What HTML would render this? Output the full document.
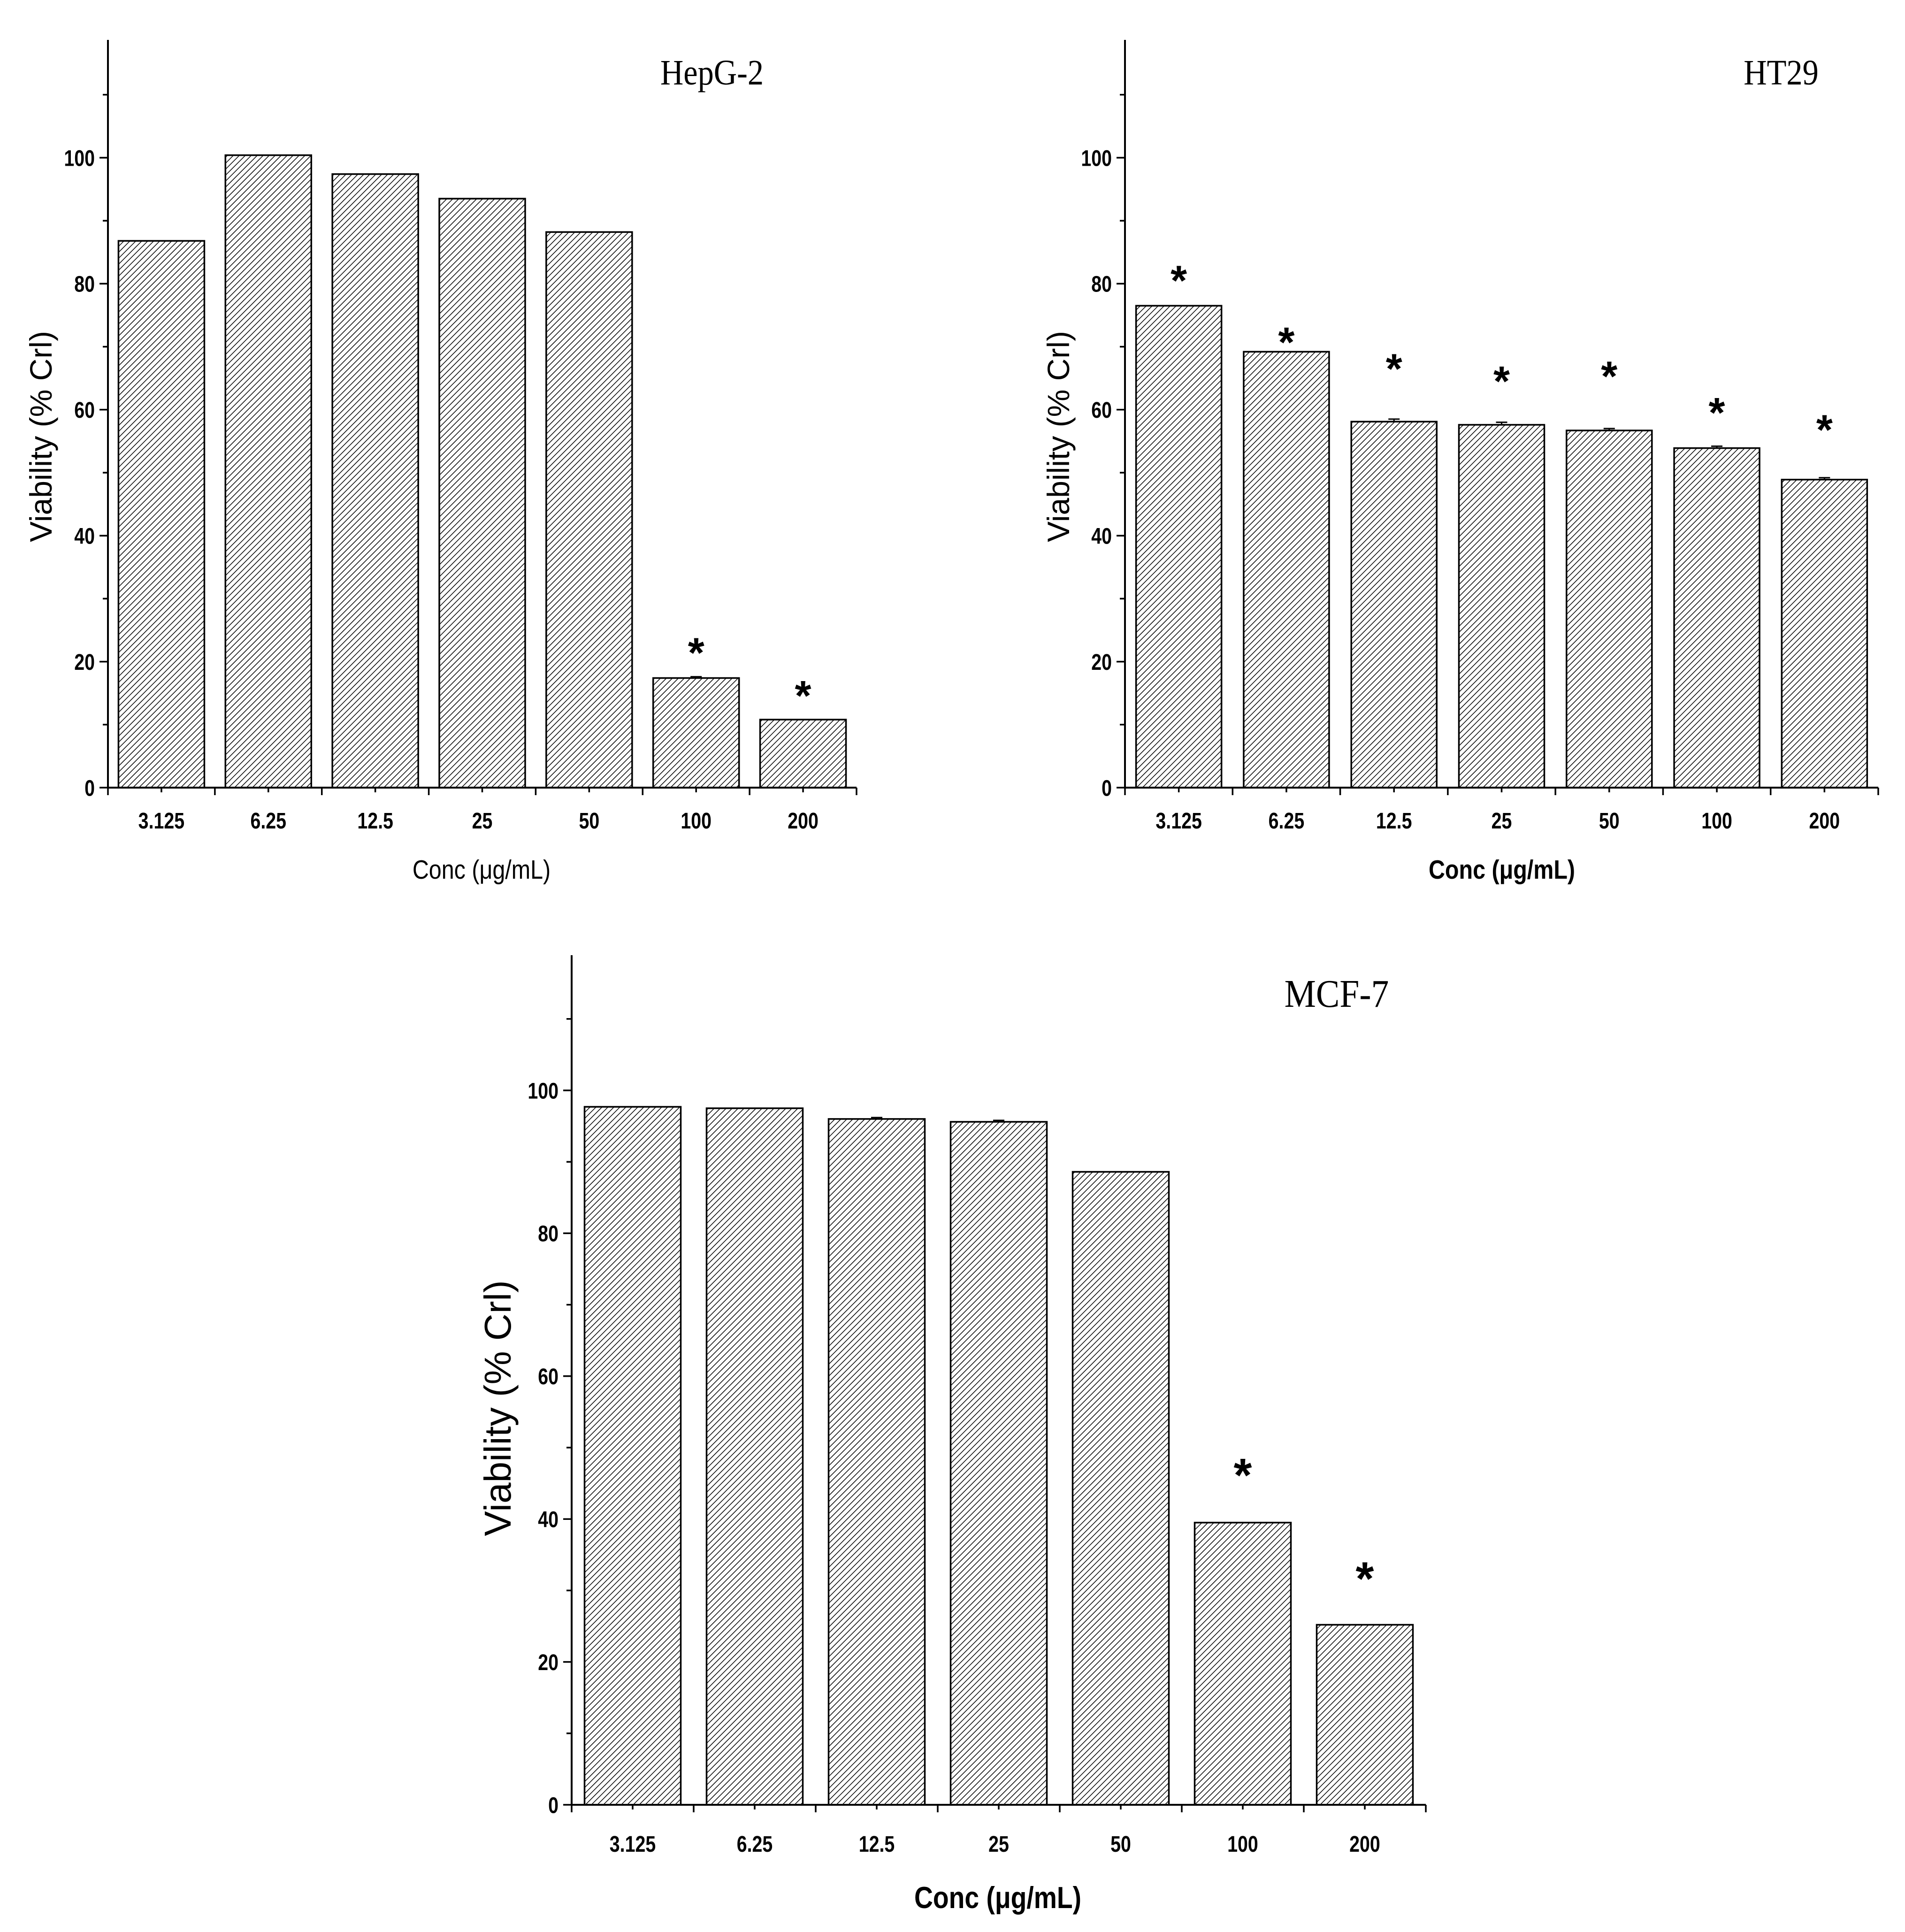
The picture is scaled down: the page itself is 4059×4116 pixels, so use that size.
<!DOCTYPE html>
<html><head><meta charset="utf-8"><style>
html,body{margin:0;padding:0;background:#fff;}
svg{display:block;}
</style></head><body>
<svg id="fig" width="4059" height="4116" viewBox="0 0 4059 4116" xmlns="http://www.w3.org/2000/svg">
<defs>
<pattern id="hatch" patternUnits="userSpaceOnUse" width="9" height="9" patternTransform="rotate(45)">
<rect width="9" height="9" fill="#fff"/>
<line x1="0" y1="0" x2="0" y2="9" stroke="#000" stroke-width="3"/>
</pattern>
</defs>
</svg>
<script>
const categories = ["3.125","6.25","12.5","25","50","100","200"];
const yTicks = [0,20,40,60,80,100];
const hepValues = [86.8,100.4,97.4,93.5,88.2,17.4,10.8];
const hepErr = [0,0,0,0,0,0.2,0];
const hepStars = [null,null,null,null,null,22.8,16];
const htValues = [76.5,69.2,58.1,57.6,56.7,53.9,48.9];
const htErr = [0,0,0.4,0.4,0.3,0.3,0.3];
const htStars = [81.9,72.1,67.9,65.9,66.7,60.9,58.2];
const mcfValues = [97.7,97.5,96,95.6,88.6,39.5,25.2];
const mcfErr = [0,0,0.2,0.2,0,0,0];
const mcfStars = [null,null,null,null,null,47.5,33];

const NS = "http://www.w3.org/2000/svg";
const svg = document.getElementById('fig');
function mk(tag, attrs, parent, text){
  const e = document.createElementNS(NS, tag);
  for (const k in attrs) e.setAttribute(k, attrs[k]);
  if (text !== undefined) e.textContent = text;
  (parent||svg).appendChild(e);
  return e;
}
function panel(cfg, values, errs, stars){
  const g = mk('g', {});
  
  
  const y = v => cfg.y0 - (v) * (cfg.y0 - cfg.y100) / 100;
  const band = (cfg.x1 - cfg.x0) / categories.length;
  const cx = i => cfg.x0 + band * (i + 0.5);
  values.forEach((v, i) => {
    const r = mk('rect', {x: cx(i) - cfg.bw/2, y: y(v), width: cfg.bw, height: cfg.y0 - y(v), fill: 'url(#hatch)', stroke: '#000', 'stroke-width': 3.5}, g);
    
    
    if (errs[i] > 0) {
      const e = mk('path', {d: `M${cx(i)-12},${y(v+errs[i])}H${cx(i)+12}M${cx(i)},${y(v+errs[i])}V${y(v)}`, stroke: '#000', 'stroke-width': 3, fill: 'none'}, g);
      
      
    }
    if (stars[i] !== null) {
      const s = mk('text', {x: cx(i), y: y(stars[i]) + cfg.starSize*0.55, 'font-family': 'Liberation Sans, sans-serif', 'font-weight': 'bold', 'font-size': cfg.starSize, 'text-anchor': 'middle'}, g, '*');
      
      
    }
  });
  const ax = mk('path', {d: `M${cfg.x0},${cfg.yTop}V${cfg.y0}H${cfg.x1}`, stroke: '#000', 'stroke-width': 4, fill: 'none'}, g);
  
  
  let d = '';
  for (let v = 0; v <= 110; v += 10) {
    const len = v % 20 === 0 ? 18 : 11;
    d += `M${cfg.x0-len},${y(v)}H${cfg.x0}`;
  }
  for (let i = 0; i <= categories.length; i++) d += `M${cfg.x0+band*i},${cfg.y0}v16`;
  for (let i = 0; i < categories.length; i++) d += `M${cx(i)},${cfg.y0}v10`;
  mk('path', {d: d, stroke: '#000', 'stroke-width': 3.5, fill: 'none'}, g);
  yTicks.forEach(v => {
    const t = mk('text', {x: cfg.x0 - 28, y: y(v) + cfg.tick*0.36, 'font-family': 'Liberation Sans, sans-serif', 'font-weight': 'bold', 'font-size': cfg.tick, 'text-anchor': 'end', transform: `translate(${(cfg.x0-28)*0.18},0) scale(0.82,1)`}, g, String(v));
    
    
  });
  categories.forEach((c, i) => {
    const t = mk('text', {x: cx(i)/0.82, y: cfg.xTickY, 'font-family': 'Liberation Sans, sans-serif', 'font-weight': 'bold', 'font-size': cfg.tick, 'text-anchor': 'middle', transform: 'scale(0.82,1)'}, g, c);
    
    
  });
  const xt = mk('text', {x: cfg.xTitleX/0.85, y: cfg.xTitleY, 'font-family': 'Liberation Sans, sans-serif', 'font-weight': cfg.boldX ? 'bold' : 'normal', 'font-size': cfg.axisTitle, 'text-anchor': 'middle', transform: 'scale(0.85,1)'}, g, 'Conc (\u03BCg/mL)');
  
  
  const yt = mk('text', {x: 0, y: 0, 'font-family': 'Liberation Sans, sans-serif', 'font-size': cfg.yTitleSize, 'text-anchor': 'middle', transform: `translate(${cfg.yTitleX},${cfg.yTitleY}) rotate(-90)`}, g, 'Viability (% Crl)');
  
  
  const tt = mk('text', {x: cfg.titleX/0.9, y: cfg.titleY, 'font-family': 'Liberation Serif, serif', 'font-size': cfg.titleSize, 'text-anchor': 'middle', transform: 'scale(0.9,1)'}, g, cfg.title);
  
  
}
panel({name:'hepg2', title:'HepG-2', x0:230, x1:1825, y0:1678, y100:336, yTop:85, bw:183, tick:48, axisTitle:57, yTitleSize:66, xTickY:1765, xTitleX:1026, xTitleY:1872, yTitleX:110, yTitleY:930, titleX:1517, titleY:180, titleSize:76, starSize:90, boldX:false}, hepValues, hepErr, hepStars);
panel({name:'ht29', title:'HT29', x0:2397, x1:4002, y0:1678, y100:336, yTop:85, bw:182, tick:48, axisTitle:57, yTitleSize:66, xTickY:1765, xTitleX:3200, xTitleY:1872, yTitleX:2278, yTitleY:930, titleX:3795, titleY:180, titleSize:76, starSize:90, boldX:true}, htValues, htErr, htStars);
panel({name:'mcf7', title:'MCF-7', x0:1218, x1:3038, y0:3845, y100:2323, yTop:2035, bw:205, tick:48, axisTitle:65, yTitleSize:80, xTickY:3945, xTitleX:2126, xTitleY:4065, yTitleX:1088, yTitleY:3000, titleX:2848, titleY:2145, titleSize:84, starSize:100, boldX:true}, mcfValues, mcfErr, mcfStars);
</script>
</body></html>
